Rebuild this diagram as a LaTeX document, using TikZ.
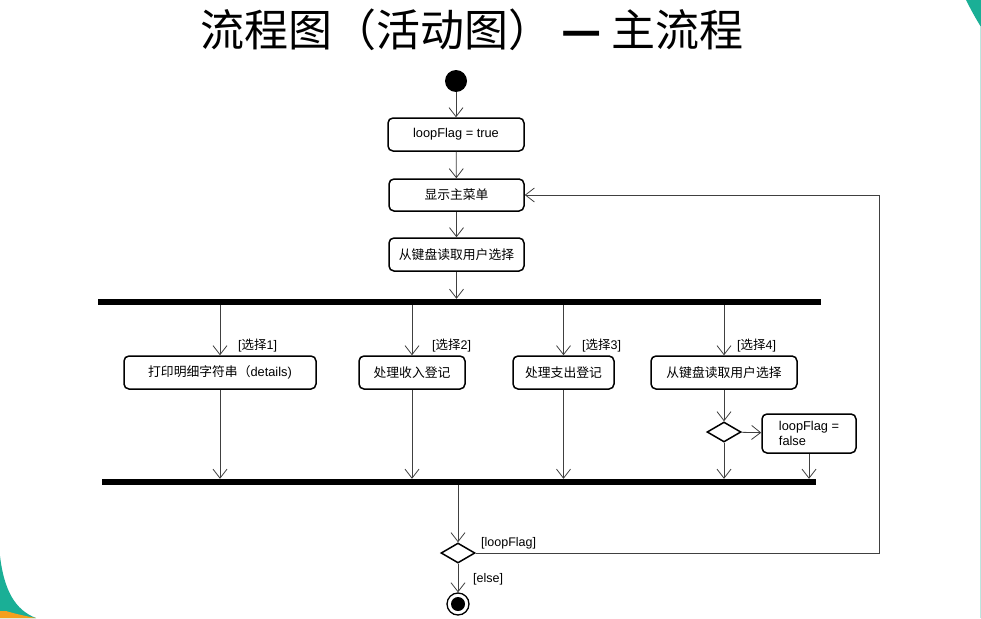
\documentclass[tikz,border=0pt]{standalone}
\usepackage{fontspec}
\setmainfont{Liberation Sans}
\newfontfamily\cjk{Noto Sans CJK SC}
\usetikzlibrary{arrows.meta,shapes.geometric}
\definecolor{tealbg}{RGB}{26,175,150}
\definecolor{orangebg}{RGB}{245,160,30}
\begin{document}
\begin{tikzpicture}[x=1pt,y=-1pt,
  act/.style={draw=black, line width=1.5pt, rounded corners=5pt, inner sep=0pt, font=\fontsize{12.8}{15}\selectfont},
  bar/.style={fill=black, inner sep=0pt, minimum height=6pt},
  dec/.style={diamond, draw=black, line width=1.5pt, minimum width=34pt, minimum height=20pt, inner sep=0pt},
  startnode/.style={circle, fill=black, minimum size=22pt, inner sep=0pt},
  endnode/.style={circle, draw=black, line width=1.3pt, minimum size=22pt, inner sep=0pt,
    path picture={\fill[black] (path picture bounding box.center) circle (7pt);}},
  conn/.style={draw=black!75, line width=0.8pt, -{Straight Barb[length=9pt,width=14pt]}},
  lbl/.style={font=\fontsize{12.5}{14}\selectfont, inner sep=0pt, anchor=west}]
\useasboundingbox (0,0) rectangle (981,618);
\fill[white] (0,0) rectangle (981,618);
% slide decoration
\fill[tealbg] (0,556) .. controls (4,590) and (15,610) .. (36,618) -- (0,618) -- cycle;
\fill[orangebg] (6,611) .. controls (16,614) and (25,616) .. (36,618) -- (0,618) -- (0,611) -- cycle;
\fill[tealbg] (966,0) .. controls (971,10) and (976,19) .. (981,27) -- (981,0) -- cycle;
\draw[tealbg!30, line width=0.6pt] (980.5,27) -- (980.5,618);
% title
\node[font=\cjk\fontsize{44}{48}\selectfont, inner sep=0pt] (title) at (472,30) {流程图（活动图）\hspace{9pt}{\bfseries —}\hspace{9pt}主流程};
% nodes
\node[startnode] (start) at (456,81) {};
\node[act, minimum width=136pt, minimum height=33pt] (init) at (456,134.5) {loopFlag = true};
\node[act, minimum width=135pt, minimum height=32pt] (menu) at (456.5,195) {\cjk 显示主菜单};
\node[act, minimum width=135pt, minimum height=33pt] (read) at (456.5,254.5) {\cjk 从键盘读取用户选择};
\node[bar, minimum width=723pt] (fork) at (459.5,302) {};
\node[act, minimum width=192pt, minimum height=33pt] (b1) at (220,372.5) {{\cjk 打印明细字符串（}details)};
\node[act, minimum width=106pt, minimum height=33pt] (b2) at (412,372.5) {\cjk 处理收入登记};
\node[act, minimum width=101pt, minimum height=33pt] (b3) at (563.5,372.5) {\cjk 处理支出登记};
\node[act, minimum width=146pt, minimum height=33pt] (b4) at (724,372.5) {\cjk 从键盘读取用户选择};
\node[dec] (d1) at (724,432) {};
\node[act, minimum width=94pt, minimum height=39pt, align=left] (fb) at (809,433.5) {loopFlag =\\false};
\node[bar, minimum width=714pt] (join) at (459,482) {};
\node[dec] (d2) at (458,553) {};
\node[endnode] (end) at (458,604) {};
% labels
\node[lbl] (l1) at (238,346) {[{\cjk 选择}1]};
\node[lbl] (l2) at (432,346) {[{\cjk 选择}2]};
\node[lbl] (l3) at (582,346) {[{\cjk 选择}3]};
\node[lbl] (l4) at (737,346) {[{\cjk 选择}4]};
\node[lbl] (lloop) at (481,543) {[loopFlag]};
\node[lbl] (lelse) at (473,579) {[else]};
% connectors
\draw[conn] (start) -- (init);
\draw[conn] (init) -- (menu);
\draw[conn] (menu) -- (read);
\draw[conn] (read.south) -- (read.south |- fork.north);
\draw[conn] (b1.north |- fork.south) -- (b1.north);
\draw[conn] (b2.north |- fork.south) -- (b2.north);
\draw[conn] (b3.north |- fork.south) -- (b3.north);
\draw[conn] (b4.north |- fork.south) -- (b4.north);
\draw[conn] (b1.south) -- (b1.south |- join.north);
\draw[conn] (b2.south) -- (b2.south |- join.north);
\draw[conn] (b3.south) -- (b3.south |- join.north);
\draw[conn] (b4) -- (d1);
\draw[conn] (d1) -- (fb);
\draw[conn] (d1.south) -- (d1.south |- join.north);
\draw[conn] (fb.south) -- (fb.south |- join.north);
\draw[conn] (d2.north |- join.south) -- (d2.north);
\draw[conn] (d2) -- (end);
\coordinate (rx) at (879,0);
\draw[conn] (d2.east) -- (d2.east -| rx) |- (menu.east);
\end{tikzpicture}
\end{document}
